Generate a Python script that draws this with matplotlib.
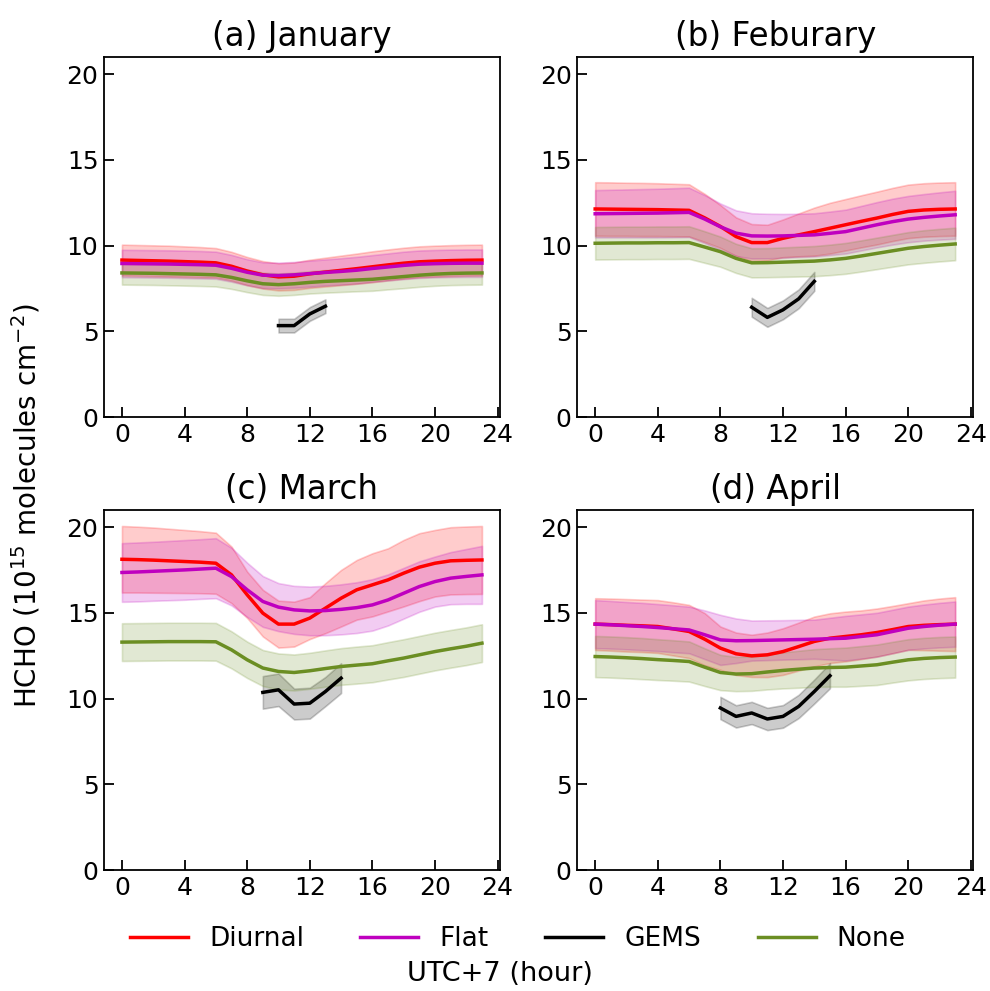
import numpy as np
import matplotlib
matplotlib.use("Agg")
import matplotlib.pyplot as plt

hours = np.arange(24)

titles = ["(a) January", "(b) Feburary", "(c) March", "(d) April"]
series_names = ["Diurnal", "Flat", "GEMS", "None"]
colors = {"Diurnal": "r", "Flat": "m", "GEMS": "k", "None": "olivedrab"}

# monthly mean HCHO columns (1e15 molec/cm2), hourly, UTC+7
jan_diurnal = [9.16, 9.14, 9.12, 9.10, 9.07, 9.04, 9.00, 8.80, 8.52, 8.30, 8.18, 8.22,
               8.36, 8.46, 8.56, 8.66, 8.77, 8.88, 8.98, 9.06, 9.10, 9.13, 9.15, 9.16]
jan_diurnal_sd = [0.90, 0.90, 0.90, 0.90, 0.89, 0.88, 0.86, 0.84, 0.82, 0.80, 0.79, 0.80,
                  0.82, 0.84, 0.86, 0.88, 0.90, 0.90, 0.90, 0.90, 0.90, 0.90, 0.90, 0.90]
jan_flat = [8.96, 8.95, 8.94, 8.93, 8.91, 8.89, 8.86, 8.68, 8.45, 8.28, 8.26, 8.30,
            8.37, 8.44, 8.50, 8.57, 8.67, 8.76, 8.85, 8.92, 8.95, 8.97, 8.98, 8.98]
jan_flat_sd = [0.80, 0.80, 0.80, 0.80, 0.80, 0.80, 0.79, 0.78, 0.76, 0.75, 0.75, 0.75,
               0.76, 0.76, 0.77, 0.78, 0.78, 0.79, 0.80, 0.80, 0.80, 0.80, 0.80, 0.80]
jan_none = [8.41, 8.40, 8.39, 8.37, 8.35, 8.33, 8.30, 8.15, 7.95, 7.78, 7.73, 7.78,
            7.86, 7.92, 7.96, 8.00, 8.04, 8.12, 8.20, 8.28, 8.34, 8.38, 8.40, 8.41]
jan_none_sd = [0.68, 0.68, 0.68, 0.68, 0.68, 0.68, 0.68, 0.67, 0.66, 0.65, 0.65, 0.65,
               0.65, 0.66, 0.66, 0.66, 0.67, 0.67, 0.68, 0.68, 0.68, 0.68, 0.68, 0.68]
jan_gems_hours = [10, 11, 12, 13]
jan_gems = [5.34, 5.34, 6.02, 6.47]
jan_gems_sd = [0.40, 0.40, 0.40, 0.40]

feb_diurnal = [12.14, 12.13, 12.12, 12.11, 12.10, 12.08, 12.06, 11.62, 11.12, 10.53, 10.18, 10.18,
               10.43, 10.63, 10.82, 11.02, 11.22, 11.42, 11.61, 11.82, 12.00, 12.08, 12.12, 12.14]
feb_diurnal_sd = [1.56, 1.56, 1.55, 1.55, 1.54, 1.53, 1.52, 1.40, 1.25, 1.12, 1.08, 1.04,
                  1.10, 1.25, 1.40, 1.48, 1.50, 1.52, 1.54, 1.55, 1.56, 1.56, 1.56, 1.56]
feb_flat = [11.86, 11.87, 11.88, 11.89, 11.90, 11.92, 11.94, 11.55, 11.10, 10.73, 10.57, 10.56,
            10.57, 10.60, 10.63, 10.72, 10.82, 11.02, 11.22, 11.40, 11.55, 11.65, 11.73, 11.80]
feb_flat_sd = [1.38, 1.39, 1.40, 1.41, 1.42, 1.43, 1.44, 1.40, 1.36, 1.33, 1.32, 1.30,
               1.28, 1.26, 1.26, 1.27, 1.28, 1.30, 1.32, 1.34, 1.35, 1.36, 1.38, 1.40]
feb_none = [10.14, 10.15, 10.16, 10.16, 10.17, 10.17, 10.18, 9.92, 9.65, 9.26, 9.00, 9.01,
            9.04, 9.07, 9.10, 9.17, 9.26, 9.40, 9.55, 9.70, 9.85, 9.95, 10.03, 10.10]
feb_none_sd = [0.95, 0.95, 0.95, 0.95, 0.95, 0.95, 0.95, 0.92, 0.88, 0.85, 0.85, 0.85,
               0.86, 0.87, 0.88, 0.89, 0.90, 0.91, 0.92, 0.93, 0.94, 0.95, 0.95, 0.95]
feb_gems_hours = [10, 11, 12, 13, 14]
feb_gems = [6.41, 5.82, 6.26, 6.90, 7.92]
feb_gems_sd = [0.55, 0.55, 0.55, 0.55, 0.55]

mar_diurnal = [18.12, 18.10, 18.07, 18.03, 17.99, 17.95, 17.89, 17.21, 16.05, 14.98, 14.34, 14.34,
               14.69, 15.27, 15.85, 16.34, 16.63, 16.92, 17.31, 17.66, 17.89, 18.03, 18.06, 18.08]
mar_diurnal_sd = [1.94, 1.92, 1.90, 1.87, 1.84, 1.81, 1.78, 1.65, 1.35, 1.36, 1.37, 1.31,
                  1.22, 1.46, 1.65, 1.74, 1.84, 1.84, 1.94, 1.98, 1.94, 1.96, 1.97, 1.98]
mar_flat = [17.35, 17.38, 17.42, 17.46, 17.50, 17.55, 17.60, 17.11, 16.34, 15.66, 15.33, 15.17,
            15.11, 15.13, 15.20, 15.30, 15.46, 15.75, 16.14, 16.53, 16.82, 17.02, 17.12, 17.21]
mar_flat_sd = [1.71, 1.72, 1.72, 1.73, 1.74, 1.74, 1.75, 1.68, 1.58, 1.48, 1.40, 1.40,
               1.42, 1.44, 1.46, 1.48, 1.50, 1.49, 1.48, 1.47, 1.46, 1.52, 1.60, 1.69]
mar_none = [13.29, 13.30, 13.31, 13.32, 13.32, 13.32, 13.31, 12.84, 12.26, 11.78, 11.58, 11.52,
            11.62, 11.75, 11.87, 11.95, 12.03, 12.20, 12.36, 12.55, 12.74, 12.90, 13.05, 13.23]
mar_none_sd = [1.10, 1.10, 1.10, 1.10, 1.10, 1.10, 1.10, 1.08, 1.06, 1.05, 1.05, 1.05,
               1.05, 1.06, 1.07, 1.08, 1.08, 1.09, 1.10, 1.10, 1.10, 1.10, 1.10, 1.10]
mar_gems_hours = [9, 10, 11, 12, 13, 14]
mar_gems = [10.36, 10.51, 9.68, 9.73, 10.41, 11.19]
mar_gems_sd = [0.95, 0.95, 0.90, 0.90, 0.85, 0.87]

apr_diurnal = [14.34, 14.31, 14.27, 14.24, 14.20, 14.06, 13.91, 13.46, 12.94, 12.61, 12.49, 12.55,
               12.74, 13.03, 13.33, 13.52, 13.62, 13.72, 13.85, 14.02, 14.20, 14.27, 14.31, 14.34]
apr_diurnal_sd = [1.51, 1.52, 1.53, 1.53, 1.54, 1.55, 1.55, 1.52, 1.26, 1.24, 1.23, 1.30,
                  1.36, 1.40, 1.45, 1.45, 1.45, 1.42, 1.40, 1.38, 1.36, 1.45, 1.52, 1.57]
apr_flat = [14.34, 14.30, 14.25, 14.20, 14.14, 14.07, 14.00, 13.72, 13.42, 13.37, 13.38, 13.40,
            13.42, 13.44, 13.46, 13.49, 13.52, 13.62, 13.72, 13.91, 14.10, 14.20, 14.28, 14.34]
apr_flat_sd = [1.40, 1.39, 1.38, 1.38, 1.37, 1.37, 1.36, 1.42, 1.46, 1.30, 1.17, 1.16,
               1.15, 1.15, 1.14, 1.22, 1.30, 1.29, 1.28, 1.27, 1.26, 1.28, 1.30, 1.32]
apr_none = [12.45, 12.42, 12.38, 12.33, 12.27, 12.22, 12.16, 11.83, 11.52, 11.43, 11.45, 11.55,
            11.64, 11.71, 11.78, 11.81, 11.83, 11.90, 11.97, 12.12, 12.26, 12.34, 12.39, 12.42]
apr_none_sd = [1.20, 1.20, 1.20, 1.20, 1.19, 1.18, 1.17, 1.10, 1.03, 1.00, 1.00, 1.02,
               1.05, 1.08, 1.10, 1.12, 1.14, 1.16, 1.18, 1.19, 1.20, 1.20, 1.20, 1.20]
apr_gems_hours = [8, 9, 10, 11, 12, 13, 14, 15]
apr_gems = [9.45, 8.96, 9.16, 8.81, 8.96, 9.54, 10.41, 11.33]
apr_gems_sd = [0.65, 0.65, 0.65, 0.65, 0.66, 0.68, 0.70, 0.73]

months = [
    (jan_diurnal, jan_diurnal_sd, jan_flat, jan_flat_sd, jan_none, jan_none_sd,
     jan_gems_hours, jan_gems, jan_gems_sd),
    (feb_diurnal, feb_diurnal_sd, feb_flat, feb_flat_sd, feb_none, feb_none_sd,
     feb_gems_hours, feb_gems, feb_gems_sd),
    (mar_diurnal, mar_diurnal_sd, mar_flat, mar_flat_sd, mar_none, mar_none_sd,
     mar_gems_hours, mar_gems, mar_gems_sd),
    (apr_diurnal, apr_diurnal_sd, apr_flat, apr_flat_sd, apr_none, apr_none_sd,
     apr_gems_hours, apr_gems, apr_gems_sd),
]


def draw_band(ax, x, mean, sd, name):
    mean = np.asarray(mean)
    sd = np.asarray(sd)
    c = colors[name]
    ax.fill_between(x, mean - sd, mean + sd, color=c, alpha=0.2, lw=1.2)
    ax.plot(x, mean, color=c, lw=2.5, label=name)


fig = plt.figure(figsize=(9.9, 9.91), dpi=100)

lefts = [0.105, 0.583]
bottoms = [0.579, 0.122]
w, h = 0.400, 0.3635

for i, (title, data) in enumerate(zip(titles, months)):
    row, col = divmod(i, 2)
    ax = fig.add_axes([lefts[col], bottoms[row], w, h])
    d, d_sd, f, f_sd, n, n_sd, gh, g, g_sd = data

    draw_band(ax, hours, d, d_sd, "Diurnal")
    draw_band(ax, hours, f, f_sd, "Flat")
    draw_band(ax, gh, g, g_sd, "GEMS")
    draw_band(ax, hours, n, n_sd, "None")

    ax.set_ylim(0, 21)
    ax.set_xticks(np.arange(0, 25, 4))
    ax.set_yticks([0, 5, 10, 15, 20])
    ax.tick_params(direction="in", length=7, width=1.3, labelsize=18, pad=4)
    for sp in ax.spines.values():
        sp.set_linewidth(1.3)
    ax.set_title(title, fontsize=23.5, pad=8)

handles, labels = ax.get_legend_handles_labels()
fig.legend(handles, labels, loc="center", bbox_to_anchor=(0.523, 0.052), ncol=4,
           frameon=False, fontsize=19, handlelength=2.2, columnspacing=2.14)
fig.text(0.505, 0.017, "UTC+7 (hour)", ha="center", va="center", fontsize=19.5)
fig.text(0.026, 0.49, r"HCHO (10$^{15}$ molecules cm$^{-2}$)", rotation=90,
         ha="center", va="center", fontsize=20)

fig.savefig("out.png", dpi=100)
